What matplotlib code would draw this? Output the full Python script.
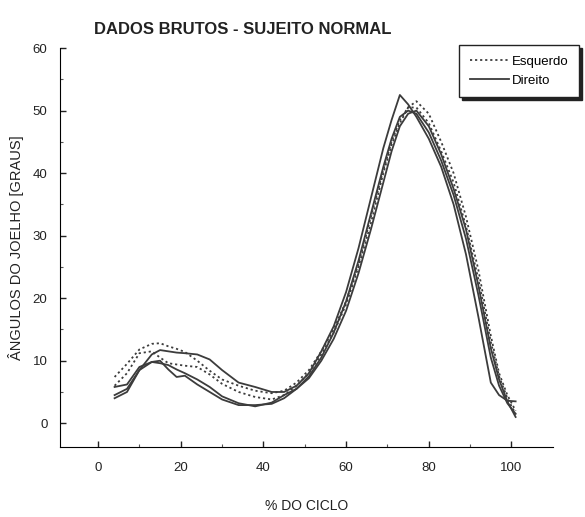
import matplotlib
matplotlib.use('Agg')
import matplotlib.pyplot as plt

plt.rcParams['font.family'] = ['Liberation Sans', 'DejaVu Sans']

# % do ciclo (amostras comuns)
ciclo = [4, 7, 10, 13, 15, 17, 19, 21, 24, 27, 30, 34, 38, 42, 45, 48, 51, 54,
         57, 60, 63, 66, 69, 71, 73, 75, 77, 80, 83, 86, 89, 92, 95, 97, 99, 101]

# joelho direito (linhas continuas)
direito_1 = [4.0, 5.0, 8.5, 11.0, 11.7, 11.5, 11.3, 11.2, 11.0, 10.2, 8.5, 6.5, 5.8, 5.0, 5.0, 6.0, 8.0, 11.5,
             15.5, 21.0, 28.0, 36.0, 44.0, 48.5, 52.5, 51.0, 49.0, 45.5, 41.0, 35.0, 27.0, 17.0, 6.5, 4.5, 3.6, 3.5]
direito_2 = [5.8, 6.2, 9.0, 9.8, 10.0, 8.6, 7.4, 7.6, 6.2, 5.0, 3.8, 2.9, 2.9, 3.1, 4.0, 5.5, 7.5, 10.5,
             14.5, 19.5, 26.0, 33.5, 41.0, 45.5, 49.0, 50.0, 49.5, 46.5, 42.0, 36.5, 29.5, 20.5, 10.5, 6.0, 3.2, 1.5]
direito_3 = [4.5, 5.5, 8.5, 9.8, 9.6, 9.3, 8.6, 8.0, 7.0, 5.8, 4.3, 3.2, 2.7, 3.3, 4.5, 5.5, 7.2, 10.0,
             13.5, 18.0, 24.0, 31.0, 38.5, 43.5, 47.5, 49.5, 50.0, 47.5, 43.0, 37.5, 31.0, 22.0, 12.0, 7.0, 3.5, 1.0]

# joelho esquerdo (linhas pontilhadas)
esquerdo_1 = [7.4, 9.5, 11.8, 12.7, 12.8, 12.3, 11.9, 11.4, 10.0, 8.4, 7.0, 6.0, 5.2, 4.8, 5.2, 6.5, 8.5, 11.5,
              15.0, 19.5, 25.5, 33.0, 40.5, 45.0, 48.5, 50.5, 51.5, 49.5, 45.0, 40.0, 33.0, 24.5, 14.0, 8.0, 4.5, 2.0]
esquerdo_2 = [6.0, 8.0, 11.2, 11.5, 10.5, 9.6, 9.4, 9.2, 9.0, 7.8, 6.3, 5.0, 4.2, 3.8, 4.5, 6.0, 8.0, 11.0,
              14.5, 19.0, 25.0, 32.0, 40.0, 44.5, 48.0, 50.5, 50.5, 48.0, 43.5, 38.5, 31.5, 23.0, 13.0, 7.5, 4.0, 1.5]

cor = '#3c3c3c'

fig = plt.figure(figsize=(5.85, 5.17), dpi=100)
ax = fig.add_axes([0.1026, 0.1354, 0.8424, 0.7716])

for i, y in enumerate([esquerdo_1, esquerdo_2]):
    ax.plot(ciclo, y, linestyle=(0, (1.2, 1.6)), color=cor, linewidth=1.3,
            label='Esquerdo' if i == 0 else None)
for i, y in enumerate([direito_1, direito_2, direito_3]):
    ax.plot(ciclo, y, '-', color=cor, linewidth=1.3,
            label='Direito' if i == 0 else None)

ax.set_xlim(-9.2, 110)
ax.set_ylim(-3.8, 60)
ax.spines['top'].set_visible(False)
ax.spines['right'].set_visible(False)
ax.spines['left'].set_bounds(-3.8, 60)
ax.set_xticks([0, 20, 40, 60, 80, 100])
ax.set_xticks([10, 30, 50, 70, 90], minor=True)
ax.set_yticks([0, 10, 20, 30, 40, 50, 60])
ax.set_yticks([5, 15, 25, 35, 45, 55], minor=True)
ax.tick_params(direction='in', length=4, width=1, labelsize=9.5, colors='#222222')
ax.tick_params(axis='x', pad=11)
ax.tick_params(axis='y', pad=9)
ax.tick_params(which='minor', direction='in', length=2, width=0.8, colors='#555555')

ax.set_title('DADOS BRUTOS - SUJEITO NORMAL', fontsize=12, fontweight='bold', color='#222222',
             x=0.37, pad=10)
ax.set_xlabel('% DO CICLO', fontsize=10, color='#222222', labelpad=18)
ax.set_ylabel('ÂNGULOS DO JOELHO [GRAUS]', fontsize=10.5, color='#222222', labelpad=6)

leg = ax.legend(loc='upper right', bbox_to_anchor=(0.99, 0.913), bbox_transform=fig.transFigure,
                borderaxespad=0, fontsize=9.5, frameon=True, fancybox=False, handlelength=3.0,
                handletextpad=0.2, labelspacing=0.5, borderpad=0.8,
                shadow={'color': '#222222', 'alpha': 1.0})
leg.get_frame().set_edgecolor('#222222')
leg.get_frame().set_linewidth(1.0)

fig.savefig('out.png', dpi=100)
